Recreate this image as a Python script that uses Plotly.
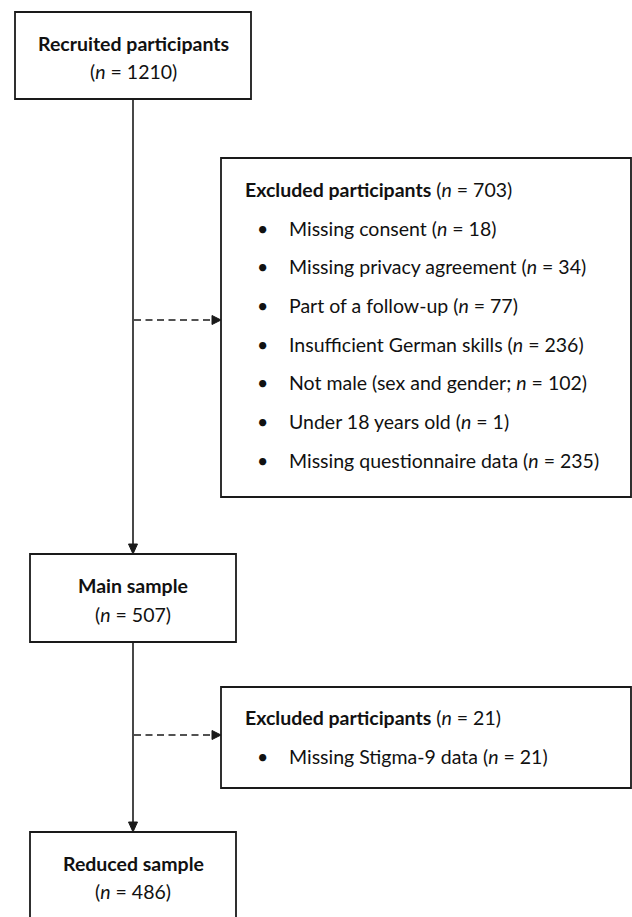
import plotly.graph_objects as go

# ---- data ----
recruited_n = 1210
main_n = 507
reduced_n = 486
excluded1_n = 703
excluded1_reasons = [
    "Missing consent",
    "Missing privacy agreement",
    "Part of a follow-up",
    "Insufficient German skills",
    "Not male (sex and gender;",
    "Under 18 years old",
    "Missing questionnaire data",
]
excluded1_counts = [18, 34, 77, 236, 102, 1, 235]
excluded2_n = 21
excluded2_reasons = ["Missing Stigma-9 data"]
excluded2_counts = [21]

W, H = 632, 917
FONT = "Lato"
FS = 19.5
LINE = "#1a1a1a"
TXT = "#111111"

fig = go.Figure()
fig.add_trace(go.Scatter(x=[0, W], y=[0, H], mode="markers",
                         marker=dict(opacity=0), hoverinfo="skip", showlegend=False))


def box(x0, y0, x1, y1):
    fig.add_shape(type="rect", x0=x0, y0=y0, x1=x1, y1=y1, xref="x", yref="y",
                  line=dict(color=LINE, width=1.8), fillcolor="rgba(0,0,0,0)")


def text(x, y, s, anchor="center", size=FS):
    fig.add_annotation(x=x, y=y, xref="x", yref="y", text=s, showarrow=False,
                       xanchor=anchor, yanchor="middle",
                       font=dict(family=FONT, size=size, color=TXT))


def vline(x, y0, y1, dash="solid"):
    fig.add_shape(type="line", x0=x, y0=y0, x1=x, y1=y1, xref="x", yref="y",
                  line=dict(color=LINE, width=1.6, dash=dash))


def hline(y, x0, x1, dash="solid"):
    fig.add_shape(type="line", x0=x0, y0=y, x1=x1, y1=y, xref="x", yref="y",
                  line=dict(color=LINE, width=1.6, dash=dash))


def head_down(x, y):
    fig.add_shape(type="path", path=f"M {x-4.5},{y-10} L {x+4.5},{y-10} L {x},{y} Z",
                  xref="x", yref="y", line=dict(color=LINE, width=1), fillcolor=LINE)


def head_right(x, y):
    fig.add_shape(type="path", path=f"M {x-9},{y-4.5} L {x-9},{y+4.5} L {x},{y} Z",
                  xref="x", yref="y", line=dict(color=LINE, width=1), fillcolor=LINE)


cx = 133
DASH = "7px,4.5px"

# Recruited box
box(15, 12, 251, 99)
text(cx, 43, "<b>Recruited participants</b>")
text(cx, 71, f"(<i>n</i> = {recruited_n})")

# Main vertical arrow
vline(cx, 99, 548)
head_down(cx, 554)

# Main sample box
box(30, 554, 236, 642)
text(cx, 585, "<b>Main sample</b>")
text(cx, 614, f"(<i>n</i> = {main_n})")

# Second vertical arrow
vline(cx, 642, 826)
head_down(cx, 832)

# Reduced sample box (runs off bottom)
box(30, 832, 236, 940)
text(cx, 863, "<b>Reduced sample</b>")
text(cx, 891, f"(<i>n</i> = {reduced_n})")

# Excluded box 1
bx0 = 221
box(bx0, 158, 631, 497)
hline(320, cx + 1, bx0 - 8, dash=DASH)
head_right(bx0, 320)
text(243, 189, f"<b>Excluded participants</b> (<i>n</i> = {excluded1_n})", anchor="left")
y0, dy = 228, 38.7
for i, (r, c) in enumerate(zip(excluded1_reasons, excluded1_counts)):
    y = y0 + i * dy
    text(262, y, "•", anchor="center")
    if r.endswith(";"):
        s = f"{r} <i>n</i> = {c})"
    else:
        s = f"{r} (<i>n</i> = {c})"
    text(287, y, s, anchor="left")

# Excluded box 2
box(bx0, 687, 631, 788)
hline(735, cx + 1, bx0 - 8, dash=DASH)
head_right(bx0, 735)
text(243, 717, f"<b>Excluded participants</b> (<i>n</i> = {excluded2_n})", anchor="left")
for i, (r, c) in enumerate(zip(excluded2_reasons, excluded2_counts)):
    y = 756 + i * dy
    text(262, y, "•", anchor="center")
    text(287, y, f"{r} (<i>n</i> = {c})", anchor="left")

fig.update_layout(
    width=W, height=H,
    margin=dict(l=0, r=0, t=0, b=0),
    paper_bgcolor="white", plot_bgcolor="white",
    xaxis=dict(range=[0, W], visible=False, fixedrange=True),
    yaxis=dict(range=[H, 0], visible=False, fixedrange=True),
    showlegend=False,
)

fig.write_html("out.html", config={"displayModeBar": False},
               post_script="document.body.style.margin='0';document.body.style.overflow='hidden';")
